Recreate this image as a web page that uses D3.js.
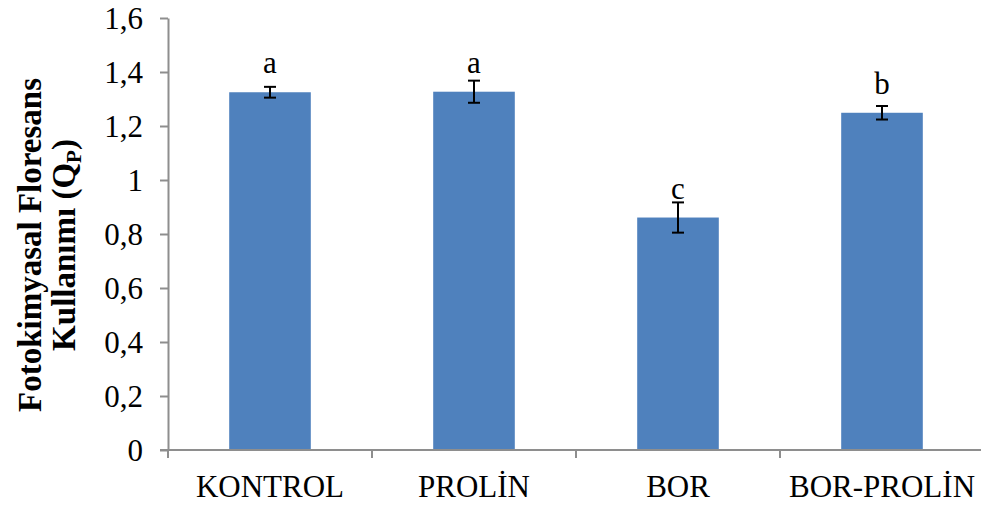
<!DOCTYPE html>
<html>
<head>
<meta charset="utf-8">
<script src="https://cdn.jsdelivr.net/npm/d3@7"></script>
<style>
  html, body { margin: 0; padding: 0; background: #fff; }
  svg { display: block; }
  text { font-family: "Liberation Serif", "Times New Roman", serif; fill: #000; }
</style>
</head>
<body>
<svg id="chart" width="981" height="507"></svg>
<script>
// Treatments and measured photochemical quenching (mean ± error)
const categories = ["KONTROL", "PROLİN", "BOR", "BOR-PROLİN"];
const means = [1.325, 1.327, 0.861, 1.249];
const errors = [0.020, 0.041, 0.056, 0.025];
const groupLetters = ["a", "a", "c", "b"];
const yTicks = [0, 0.2, 0.4, 0.6, 0.8, 1, 1.2, 1.4, 1.6];

const svg = d3.select("#chart");
const plotLeft = 168, plotRight = 984, plotTop = 18, plotBottom = 450;
const axisColor = "#8e8e8e";

const x = d3.scaleBand().domain(categories).range([plotLeft, plotRight]).padding(0);
const y = d3.scaleLinear().domain([0, 1.6]).range([plotBottom, plotTop]);
const fmt = v => String(v).replace(".", ",");

// Bars
const bw = x.bandwidth();
svg.append("g").selectAll("rect")
  .data(categories)
  .join("rect")
  .attr("x", (d) => x(d) + bw * 0.3)
  .attr("width", bw * 0.4)
  .attr("y", (d, i) => y(means[i]))
  .attr("height", (d, i) => y(0) - y(means[i]))
  .attr("fill", "#4f81bd");

// Y axis
const yAxis = svg.append("g").attr("transform", `translate(${plotLeft},0)`)
  .call(d3.axisLeft(y).tickValues(yTicks).tickSize(8).tickSizeOuter(0).tickFormat(fmt));
yAxis.select(".domain").attr("stroke", axisColor).attr("stroke-width", 2);
yAxis.selectAll(".tick line").attr("stroke", axisColor).attr("stroke-width", 2);
yAxis.selectAll(".tick text")
  .attr("x", -25).attr("dy", "0.35em")
  .style("font-family", "'Liberation Serif', serif")
  .style("font-size", "31px").attr("fill", "#000");

// X axis with boundary ticks between categories
const xAxis = svg.append("g").attr("transform", `translate(0,${plotBottom})`)
  .call(d3.axisBottom(x).tickSize(0).tickSizeOuter(0));
xAxis.select(".domain").attr("d", `M${plotLeft - 8},0H${plotRight}`)
  .attr("stroke", axisColor).attr("stroke-width", 2);
xAxis.selectAll(".tick text")
  .attr("y", 47).attr("dy", 0)
  .style("font-family", "'Liberation Serif', serif")
  .style("font-size", "31px").attr("fill", "#000");
xAxis.append("g").selectAll("line")
  .data(categories)
  .join("line")
  .attr("x1", d => x(d)).attr("x2", d => x(d))
  .attr("y1", 0).attr("y2", 8)
  .attr("stroke", axisColor).attr("stroke-width", 2);

// Error bars
const eb = svg.append("g").attr("stroke", "#000").attr("stroke-width", 2);
categories.forEach((c, i) => {
  const cx = x(c) + bw / 2;
  const y1 = y(means[i] + errors[i]), y2 = y(means[i] - errors[i]);
  eb.append("line").attr("x1", cx).attr("x2", cx).attr("y1", y1).attr("y2", y2);
  eb.append("line").attr("x1", cx - 6).attr("x2", cx + 6).attr("y1", y1).attr("y2", y1);
  eb.append("line").attr("x1", cx - 6).attr("x2", cx + 6).attr("y1", y2).attr("y2", y2);
});

// Significance letters
svg.append("g").selectAll("text")
  .data(categories)
  .join("text")
  .attr("x", d => x(d) + bw / 2)
  .attr("y", (d, i) => y(means[i]) - 19)
  .attr("text-anchor", "middle")
  .style("font-size", "31px")
  .text((d, i) => groupLetters[i]);

// Y axis title (two lines, rotated)
const title = svg.append("text")
  .attr("transform", "translate(41,245) rotate(-90)")
  .attr("text-anchor", "middle")
  .style("font-size", "33px").style("font-weight", "bold");
title.append("tspan").attr("x", 0).attr("y", 0).text("Fotokimyasal Floresans");
const line2 = svg.append("text")
  .attr("transform", "translate(75,245) rotate(-90)")
  .attr("text-anchor", "middle")
  .style("font-size", "33px").style("font-weight", "bold");
line2.append("tspan").text("Kullanımı (Q");
line2.append("tspan").attr("dy", 6).style("font-size", "21px").text("P");
line2.append("tspan").attr("dy", -6).text(")");
</script>
</body>
</html>
